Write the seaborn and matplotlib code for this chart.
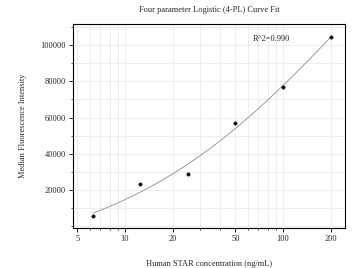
import numpy as np
import pandas as pd
import matplotlib
matplotlib.use("Agg")
import matplotlib.pyplot as plt
import seaborn as sns
from matplotlib.ticker import LogLocator, ScalarFormatter, MultipleLocator, NullFormatter, FixedLocator

# data
concentration = [6.25, 12.5, 25, 50, 100, 200]
mfi = [5800, 23300, 28800, 57000, 76900, 104200]
x_ticks = [5, 10, 20, 50, 100, 200]
y_ticks = [20000, 40000, 60000, 80000, 100000]
title = "Four parameter Logistic (4-PL) Curve Fit"
xlabel = "Human STAR concentration (ng/mL)"
ylabel = "Median Fluorescence Intensity"
r2_text = "R^2=0.990"

# 4PL fit: grid search over b, c with linear least squares for a, d
x = np.array(concentration, float)
y = np.array(mfi, float)
best = None
for b in np.linspace(0.3, 4, 120):
    for lc in np.linspace(0.5, 4.5, 200):
        c = 10 ** lc
        f = 1.0 / (1.0 + (x / c) ** b)
        A = np.vstack([f, 1 - f]).T
        coef, *_ = np.linalg.lstsq(A, y, rcond=None)
        res = np.sum((A @ coef - y) ** 2)
        if best is None or res < best[0]:
            best = (res, b, c, coef[0], coef[1])
_, b, c, a, d = best
xs = np.logspace(np.log10(x.min()), np.log10(x.max()), 200)
ys = d + (a - d) / (1.0 + (xs / c) ** b)
curve = pd.DataFrame({"x": xs, "y": ys})
pts = pd.DataFrame({"x": x, "y": y})

sns.set_style("white")
plt.rcParams["font.family"] = ["Liberation Serif", "DejaVu Serif"]

fig = plt.figure(figsize=(3.54, 2.68), dpi=100)
ax = fig.add_axes([73/354, 1 - 228/268, 272/354, 204/268])

sns.lineplot(data=curve, x="x", y="y", ax=ax, color="#8c8c8c", linewidth=0.6)
sns.scatterplot(data=pts, x="x", y="y", ax=ax, color="black", s=6, edgecolor="black", linewidth=0.3, zorder=5)

ax.set_xscale("log")
ax.set_xlim(4.69, 247)
ax.set_ylim(-965, 111590)
ax.xaxis.set_major_locator(FixedLocator(x_ticks))
ax.xaxis.set_major_formatter(ScalarFormatter())
ax.xaxis.set_minor_locator(LogLocator(base=10, subs=np.arange(2, 10)))
ax.xaxis.set_minor_formatter(NullFormatter())
ax.yaxis.set_major_locator(FixedLocator(y_ticks))
ax.yaxis.set_minor_locator(MultipleLocator(10000))

ax.grid(which="both", color="#e6e6e6", linewidth=0.5)
ax.set_axisbelow(True)
for s in ax.spines.values():
    s.set_color("black")
    s.set_linewidth(0.8)
ax.tick_params(which="major", direction="out", length=3, width=0.6, labelsize=6, pad=2, color="black", bottom=True, left=True)
ax.tick_params(which="minor", direction="out", length=1.5, width=0.5, color="black", bottom=True, left=True)

ax.set_xlabel(xlabel, fontsize=6, labelpad=12)
ax.set_ylabel(ylabel, fontsize=6, labelpad=10)
ax.set_title(title, fontsize=6, pad=9)
ax.text(0.66, 0.926, r2_text, transform=ax.transAxes, fontsize=6, va="center", ha="left")

fig.savefig("out.png", dpi=100)
